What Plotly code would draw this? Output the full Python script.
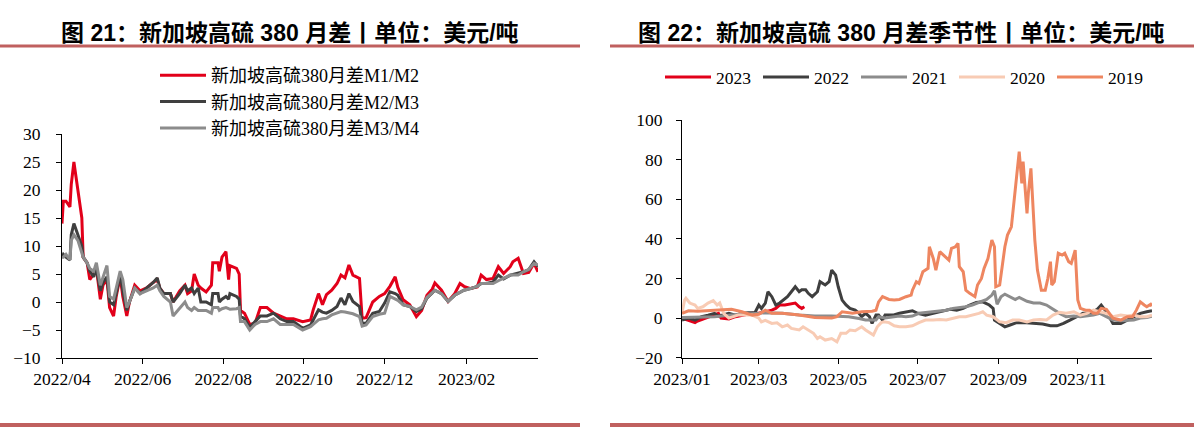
import plotly.graph_objects as go

# ---------------- Left chart: Singapore HSFO 380 spreads ----------------
dates_left = [
    "2022-04-01", "2022-04-02", "2022-04-04", "2022-04-07", "2022-04-08", "2022-04-10", "2022-04-13",
    "2022-04-16", "2022-04-17", "2022-04-20", "2022-04-22", "2022-04-25", "2022-04-27", "2022-04-30",
    "2022-05-02", "2022-05-05", "2022-05-07", "2022-05-10", "2022-05-12", "2022-05-15", "2022-05-17",
    "2022-05-20", "2022-05-22", "2022-05-26", "2022-05-30",
    "2022-06-04", "2022-06-09", "2022-06-12", "2022-06-14", "2022-06-17", "2022-06-22", "2022-06-24", "2022-06-29",
    "2022-07-03", "2022-07-05", "2022-07-08", "2022-07-10", "2022-07-13", "2022-07-15", "2022-07-19",
    "2022-07-23", "2022-07-24", "2022-07-28", "2022-07-29", "2022-07-31",
    "2022-08-03", "2022-08-05", "2022-08-06", "2022-08-11", "2022-08-13", "2022-08-14", "2022-08-17",
    "2022-08-21", "2022-08-25", "2022-08-29",
    "2022-09-03", "2022-09-08", "2022-09-13", "2022-09-18", "2022-09-23", "2022-09-30",
    "2022-10-06", "2022-10-08", "2022-10-12", "2022-10-15", "2022-10-18", "2022-10-22", "2022-10-26", "2022-10-29",
    "2022-11-01", "2022-11-04", "2022-11-07", "2022-11-12", "2022-11-14", "2022-11-17", "2022-11-22", "2022-11-27",
    "2022-12-01", "2022-12-05", "2022-12-09", "2022-12-11", "2022-12-15", "2022-12-20", "2022-12-25", "2022-12-29",
    "2023-01-02", "2023-01-06", "2023-01-08", "2023-01-13", "2023-01-18", "2023-01-23", "2023-01-27", "2023-01-30",
    "2023-02-04", "2023-02-09", "2023-02-12", "2023-02-16", "2023-02-21", "2023-02-25",
    "2023-03-01", "2023-03-06", "2023-03-08", "2023-03-12", "2023-03-16", "2023-03-20", "2023-03-24", "2023-03-27",
]

m1_m2 = [
    14, 18, 18, 17, 21, 25, 20, 15, 8, 7, 4, 5, 6, 0.5,
    3, 4, -1, -2.5, 1, 4.5, 1, -2.5, 0, 3, 2,
    2.5, 3.5, 4, 2.5, 1.5, 1.5, 0, 2,
    3, 1.5, 2, 5, 3, 2.5, 1.8, 3, 7, 7, 5.5, 8,
    9, 4, 6.5, 6, 5, -1.5, -2, -4, -3.8, -1,
    -1, -2, -2.5, -3, -3, -3.5,
    -3.2, -1.4, 1.5, -0.5, 1.3, 2.1, 3.3, 4.8,
    4.3, 6.6, 4.8, 4.2, -2.9, -2.8, 0, 1,
    1.5, 2.8, 4.5, 2.6, 0.4, -0.5, -2.6, -1.5,
    1.2, 2.3, 3.4, 2.1, 0.1, 1.5, 3.3, 2.8,
    2.4, 2.7, 4.8, 4, 4.2, 6.3,
    5.1, 6.3, 7.2, 7.8, 5.1, 5.3, 6.9, 5.4,
]

m2_m3 = [
    8, 8.5, 8, 7.5, 12, 14, 12, 10, 8, 7, 5.5, 4.5, 6, 2,
    3.5, 4.5, 0, -0.5, 1.5, 5, 2, -1.5, 0, 2.5, 1.5,
    2.5, 3.5, 4.3, 2.5, 1.5, 1.5, 0, 1.5,
    3, 2, 2.5, 1.5, 2.5, 0, 0, -0.5, 1.5, 1.5, 0, 0.5,
    1, 0.5, 1.5, 1, 0.5, -2.5, -3, -4.5, -3.5, -2.5,
    -2.5, -2, -3, -3.5, -3.5, -4.7,
    -4.1, -3.2, -1.4, -1.8, -2, -1.5, -0.8, 0.7,
    -0.5, 1.5, 0.1, -0.8, -3.8, -3.8, -2, -1.7,
    -0.2, 1.8, 1.5, 1.2, -0.5, -0.8, -1.7, -1.2,
    0.7, 1.6, 2.1, 1.5, 0.1, 1.2, 1.8, 2.1,
    2.4, 2.8, 3.3, 3.3, 3.6, 4.8,
    4.1, 4.8, 4.9, 5.1, 5.4, 5.8, 7.2, 6.3,
]

m3_m4 = [
    8, 8, 8.5, 7.5, 11, 12, 11, 9, 8, 7, 6, 5.5, 7, 3,
    4.5, 6.5, 1, 0.5, 2.5, 5.5, 4, -1, 0, 2.5, 1.5,
    2, 2.5, 3, 2, 1, 0, -2.5, -1,
    0, -1, -1.5, -1, -1.5, -1.5, -1.5, -2, -1, -1, -1.5, -1.2,
    -1, -1.2, -1.3, -1.2, -1, -3.5, -3.5, -5, -4, -3.5,
    -3.5, -3, -4, -4, -4, -5,
    -4.4, -4, -3.2, -3, -2.9, -2.3, -2, -1.7,
    -1.8, -2, -2.1, -2.6, -4.3, -4.1, -2.6, -2.2,
    -2, 1, 0.6, 0.3, -0.5, -0.8, -1.4, -0.9,
    0.8, 1.6, 2.1, 1.5, 0.1, 1.2, 1.8, 2.1,
    2.4, 2.8, 3.3, 3.3, 3.3, 3.8,
    4.2, 4.8, 4.8, 4.8, 5.4, 5.8, 6.9, 6.6,
]

left_names = ["新加坡高硫380月差M1/M2", "新加坡高硫380月差M2/M3", "新加坡高硫380月差M3/M4"]
left_colors = ["#E2001A", "#3F3F3F", "#8C8C8C"]

# ---------------- Right chart: seasonality (plotted on a 2023 calendar) ----------------
d2023 = ["2023-01-01", "2023-01-06", "2023-01-11", "2023-01-13", "2023-01-19", "2023-01-24", "2023-01-29",
         "2023-01-31", "2023-02-06", "2023-02-11", "2023-02-16", "2023-02-24", "2023-03-01", "2023-03-06",
         "2023-03-11", "2023-03-14", "2023-03-17", "2023-03-21", "2023-03-26", "2023-03-29", "2023-04-01",
         "2023-04-03", "2023-04-05"]
v2023 = [0, -1, -2.3, -1.5, 0, 1.5, 2.4, 0, -0.5, 0.7, 1.5, 2.4, 2.4, 3.2, 4, 4.9, 6.6, 6.6, 7, 7.6, 5.7, 4.9, 5.7]

d2022 = ["2023-01-01", "2023-01-06", "2023-01-11", "2023-01-16", "2023-01-21", "2023-01-26", "2023-01-29",
         "2023-02-06", "2023-02-11", "2023-02-16", "2023-02-21", "2023-02-26", "2023-03-01", "2023-03-03",
         "2023-03-06", "2023-03-08", "2023-03-11", "2023-03-14", "2023-03-17", "2023-03-20", "2023-03-23",
         "2023-03-26", "2023-03-29", "2023-04-01", "2023-04-03", "2023-04-06", "2023-04-08", "2023-04-11",
         "2023-04-15", "2023-04-17", "2023-04-21", "2023-04-24", "2023-04-26", "2023-04-29", "2023-05-01",
         "2023-05-04", "2023-05-07", "2023-05-10", "2023-05-14", "2023-05-17", "2023-05-19", "2023-05-22",
         "2023-05-25", "2023-05-27", "2023-05-30", "2023-06-01", "2023-06-04", "2023-06-06", "2023-06-12",
         "2023-06-17", "2023-06-22", "2023-06-27", "2023-07-01", "2023-07-07", "2023-07-13", "2023-07-21",
         "2023-07-26", "2023-07-31", "2023-08-05", "2023-08-10", "2023-08-15", "2023-08-20", "2023-08-25",
         "2023-08-28", "2023-08-29", "2023-09-02", "2023-09-06", "2023-09-10", "2023-09-15", "2023-09-20",
         "2023-09-25", "2023-09-30", "2023-10-05", "2023-10-11", "2023-10-16", "2023-10-21", "2023-10-26",
         "2023-10-31", "2023-11-05", "2023-11-10", "2023-11-16", "2023-11-19", "2023-11-23", "2023-11-28",
         "2023-12-04", "2023-12-09", "2023-12-14", "2023-12-19", "2023-12-24", "2023-12-28"]
v2022 = [-1, 0, -1, 0.7, 1.5, 2.4, 1, 2.4, 1.5, 2.4, 2.7, 2.7, 6.6, 4.9,
         7.6, 13.3, 10.8, 6.6, 7.6, 9.1, 10.8, 13.3, 15.8, 13.3, 14.3, 14.3, 12.5, 10.8,
         13.3, 18.4, 16.7, 18.4, 24.2, 21.7, 15.8, 9.1, 6.6, 4.9, 4, 2.4, 0.7, 2.4,
         0.7, -2.7, 1.5, 1.5, -1, 1.5, 1.5, 2.4, 3.2, 3.7, 2.4, 1.5, 2.4, 3.7,
         4.4, 4, 4.9, 6.6, 7.9, 8.2, 6.6, 4.9, -1, -2.7, -4.4, -3.5, -2.3, -2.2,
         -2.3, -2.7, -3, -3.9, -3.9, -2.7, -1, 0.7, 2.4, 2.4, 4.4, 6.6, 3.2, -2.7,
         -2.7, -1, 0.7, 2.4, 3.2, 3.7]

d2021 = ["2023-01-01", "2023-01-13", "2023-01-26", "2023-02-08", "2023-02-21", "2023-03-01", "2023-03-06",
         "2023-03-19", "2023-04-01", "2023-04-13", "2023-04-26", "2023-05-09", "2023-05-17", "2023-05-22",
         "2023-05-30", "2023-06-01", "2023-06-06", "2023-06-12", "2023-06-17", "2023-06-22", "2023-06-27",
         "2023-07-02", "2023-07-07", "2023-07-13", "2023-07-18", "2023-07-23", "2023-07-28", "2023-08-02",
         "2023-08-07", "2023-08-12", "2023-08-17", "2023-08-23", "2023-08-27", "2023-08-29", "2023-08-31",
         "2023-09-03", "2023-09-06", "2023-09-10", "2023-09-14", "2023-09-17", "2023-09-23", "2023-09-28",
         "2023-10-03", "2023-10-08", "2023-10-13", "2023-10-18", "2023-10-23", "2023-10-29", "2023-11-03",
         "2023-11-08", "2023-11-13", "2023-11-18", "2023-11-23", "2023-11-28", "2023-12-04", "2023-12-09",
         "2023-12-14", "2023-12-19", "2023-12-24", "2023-12-28"]
v2021 = [0.3, 0.5, 0.7, 1.5, 1.9, 2.4, 2.7, 2.4, 1.5, 1, 1, 0.7, -0.2, -1,
         -1, 0.7, 0, 0.7, 1, 0.7, 1, 2.4, 2.7, 3.2, 3.5, 4, 4.9, 5.2,
         5.7, 6.6, 7.7, 9.4, 11.6, 13.8, 7, 10.8, 12.1, 10.8, 9.4, 10.4, 8.5, 7.6,
         7.6, 6.6, 4.4, 2.4, 0.7, 1, 0.7, 1, 1.5, 2.4, 0.7, -1, -1.3, -1,
         -1, 0, 0.3, 1]

d2020 = ["2023-01-01", "2023-01-03", "2023-01-04", "2023-01-07", "2023-01-11", "2023-01-13", "2023-01-17",
         "2023-01-21", "2023-01-25", "2023-01-28", "2023-01-30", "2023-02-02", "2023-02-06", "2023-02-09",
         "2023-02-13", "2023-02-24", "2023-03-01", "2023-03-03", "2023-03-06", "2023-03-11", "2023-03-15",
         "2023-03-19", "2023-03-23", "2023-03-26", "2023-04-01", "2023-04-04", "2023-04-08", "2023-04-12",
         "2023-04-15", "2023-04-17", "2023-04-21", "2023-04-26", "2023-04-30", "2023-05-03", "2023-05-07",
         "2023-05-10", "2023-05-14", "2023-05-19", "2023-05-22", "2023-05-26", "2023-05-28", "2023-05-31",
         "2023-06-03", "2023-06-05", "2023-06-09", "2023-06-13", "2023-06-17", "2023-06-22", "2023-06-27",
         "2023-07-02", "2023-07-07", "2023-07-13", "2023-07-18", "2023-07-23", "2023-07-28", "2023-08-02",
         "2023-08-07", "2023-08-12", "2023-08-17", "2023-08-20", "2023-08-23", "2023-08-28", "2023-09-02",
         "2023-09-07", "2023-09-12", "2023-09-17", "2023-09-23", "2023-09-28", "2023-10-03", "2023-10-08",
         "2023-10-13", "2023-10-18", "2023-10-23", "2023-10-29", "2023-11-03", "2023-11-08", "2023-11-13",
         "2023-11-18", "2023-11-23", "2023-11-28", "2023-12-04", "2023-12-09", "2023-12-14", "2023-12-19",
         "2023-12-24", "2023-12-28"]
v2020 = [2.4, 9.1, 10, 7.6, 6.6, 4.9, 5.7, 7.6, 8.8, 6.6, 7.6, 2.4, 0, 0.7,
         1.5, 1.5, 0, -1.9, -1.2, -2.7, -2.4, -4.4, -3.5, -5.2, -6, -4.4, -6, -7.7,
         -10.3, -9.4, -11.1, -10.3, -12, -7.7, -7.7, -6, -6.4, -4.4, -6, -7.7, -8.6, -4.4,
         -2.3, -1.9, -2.3, -3.9, -4.4, -4.4, -3.9, -2.3, -1, -1, -0.7, -1, 0, 0.7,
         0.7, 1.5, 2.4, 3.2, 1.5, 0.7, -1.9, -2.3, -1, -1, -1.9, -1, -0.7, -1,
         1.5, 2.9, 2.4, 3.2, 1.5, 2.4, 4, 3.2, 2.4, 0.7, 1.5, 1, 1.5, 0.7,
         0.7, 1.5]

d2019 = ["2023-01-01", "2023-01-06", "2023-01-13", "2023-01-26", "2023-02-08", "2023-02-16", "2023-02-24",
         "2023-03-01", "2023-03-06", "2023-03-11", "2023-03-19", "2023-04-01", "2023-04-13", "2023-04-26",
         "2023-04-30", "2023-05-04", "2023-05-12", "2023-05-19", "2023-05-27", "2023-05-30", "2023-06-01",
         "2023-06-04", "2023-06-09", "2023-06-13", "2023-06-17", "2023-06-22", "2023-06-26", "2023-06-27",
         "2023-06-30", "2023-07-02", "2023-07-05", "2023-07-09", "2023-07-10", "2023-07-13", "2023-07-15",
         "2023-07-18", "2023-07-22", "2023-07-25", "2023-07-27", "2023-07-30", "2023-08-01", "2023-08-02",
         "2023-08-05", "2023-08-07", "2023-08-10", "2023-08-14", "2023-08-16", "2023-08-19", "2023-08-21",
         "2023-08-24", "2023-08-27", "2023-08-29", "2023-08-30", "2023-09-02", "2023-09-06", "2023-09-08",
         "2023-09-11", "2023-09-14", "2023-09-15", "2023-09-17", "2023-09-19", "2023-09-20", "2023-09-23",
         "2023-09-24", "2023-09-26", "2023-09-29", "2023-10-01", "2023-10-04", "2023-10-07", "2023-10-09",
         "2023-10-11", "2023-10-12", "2023-10-14", "2023-10-17", "2023-10-20", "2023-10-22", "2023-10-25",
         "2023-10-27", "2023-10-30", "2023-11-01", "2023-11-03", "2023-11-07", "2023-11-10", "2023-11-13",
         "2023-11-16", "2023-11-19", "2023-11-23", "2023-11-28", "2023-12-04", "2023-12-09", "2023-12-13",
         "2023-12-16", "2023-12-19", "2023-12-22", "2023-12-24", "2023-12-27", "2023-12-28"]
v2019 = [2.4, 3.7, 3.5, 4, 4.4, 3.2, 1.5, 1.9, 4, 2.4, 2.4, 1.5, 0.3, 0,
         0.7, 3.2, 2.4, 3.2, 3.5, 4, 8.2, 10.8, 9.4, 9.1, 9.4, 10.8, 11.6, 14.1,
         18.4, 17.5, 23.4, 25.1, 36, 30.1, 24.2, 33.5, 31, 29.3, 35.2, 36, 37.7, 25.9,
         23.4, 14.1, 12.5, 10.8, 16.7, 20, 25.1, 30.1, 39.4, 36, 15.8, 16.7, 36, 41.9,
         46.1, 63, 71.4, 84, 68, 79, 52.9, 63, 75.6, 39.4, 24.2, 14.1, 14.1, 20,
         28.5, 16.7, 18.4, 32.7, 31.8, 32.7, 28.5, 27.6, 34.3, 9.1, 4.9, 4, 4, 2.4,
         2.4, 4.9, 4.4, 0, -1, 0.7, 0.7, 4, 8.2, 6.6, 5.7, 7, 6.1]

right_names = ["2023", "2022", "2021", "2020", "2019"]
right_colors = ["#E2001A", "#3F3F3F", "#8C8C8C", "#F8CBB4", "#EE8660"]
right_dates = [d2023, d2022, d2021, d2020, d2019]
right_values = [v2023, v2022, v2021, v2020, v2019]

titles = ["图 21：新加坡高硫 380 月差丨单位：美元/吨", "图 22：新加坡高硫 380 月差季节性丨单位：美元/吨"]

W, H = 1194, 428
SERIF = "Liberation Serif, Times New Roman, Noto Sans CJK SC"

fig = go.Figure()
for name, color, vals in zip(left_names, left_colors, [m1_m2, m2_m3, m3_m4]):
    fig.add_trace(go.Scatter(x=dates_left, y=vals, name=name, mode="lines",
                             line=dict(color=color, width=3), xaxis="x", yaxis="y", legend="legend"))
for name, color, xs, ys in zip(right_names, right_colors, right_dates, right_values):
    fig.add_trace(go.Scatter(x=xs, y=ys, name=name, mode="lines",
                             line=dict(color=color, width=3), xaxis="x2", yaxis="y2", legend="legend2"))

axis_common = dict(showline=True, linecolor="black", linewidth=1, ticks="outside", ticklen=5,
                   tickcolor="black", showgrid=False, zeroline=False,
                   tickfont=dict(family=SERIF, size=17.5, color="black"))

def px_x(p):
    return p / W

def px_y(p):
    return 1 - p / H

fig.update_layout(
    width=W, height=H, margin=dict(l=0, r=0, t=0, b=0, autoexpand=False),
    paper_bgcolor="white", plot_bgcolor="white",
    xaxis=dict(domain=[px_x(62), px_x(538)], anchor="y", type="date",
               range=["2022-04-01", "2023-03-27"], tick0="2022-04-01", dtick="M2",
               tickformat="%Y/%m", **axis_common),
    yaxis=dict(domain=[px_y(358), px_y(134)], anchor="x", range=[-10, 30], dtick=5,
               ticklabelstandoff=12, **axis_common),
    xaxis2=dict(domain=[px_x(682), px_x(1152)], anchor="y2", type="date",
                range=["2023-01-01", "2023-12-28"], tick0="2023-01-01", dtick="M2",
                tickformat="%Y/%m", **axis_common),
    yaxis2=dict(domain=[px_y(357.7), px_y(120)], anchor="x2", range=[-20, 100], dtick=20,
                ticklabelstandoff=10, **axis_common),
    legend=dict(orientation="v", x=px_x(155), y=px_y(57), xanchor="left", yanchor="top",
                font=dict(family=SERIF, size=18, color="black"), bgcolor="rgba(0,0,0,0)",
                itemwidth=46),
    legend2=dict(orientation="h", x=px_x(660), y=px_y(59), xanchor="left", yanchor="top",
                 font=dict(family=SERIF, size=17.5, color="black"), bgcolor="rgba(0,0,0,0)",
                 itemwidth=46, entrywidth=37, entrywidthmode="pixels"),
    showlegend=True,
)

# titles
for t, cx in zip(titles, [290, 901]):
    fig.add_annotation(text="<b>" + t + "</b>", x=px_x(cx), y=px_y(33), xref="paper", yref="paper",
                       xanchor="center", yanchor="middle", showarrow=False,
                       font=dict(family="Liberation Sans, Arial, Noto Sans CJK SC", size=23, color="black"))

# decorative rules
rule_color = "#C0605F"
for x0, x1 in [(0, 580), (610, W)]:
    fig.add_shape(type="line", xref="paper", yref="paper", x0=px_x(x0), x1=px_x(x1),
                  y0=px_y(46), y1=px_y(46), line=dict(color=rule_color, width=3))
    fig.add_shape(type="line", xref="paper", yref="paper", x0=px_x(x0), x1=px_x(x1),
                  y0=px_y(425), y1=px_y(425), line=dict(color=rule_color, width=4))

fig.write_html("out.html", config={"displayModeBar": False},
               post_script="document.body.style.margin='0';document.body.style.padding='0';")
